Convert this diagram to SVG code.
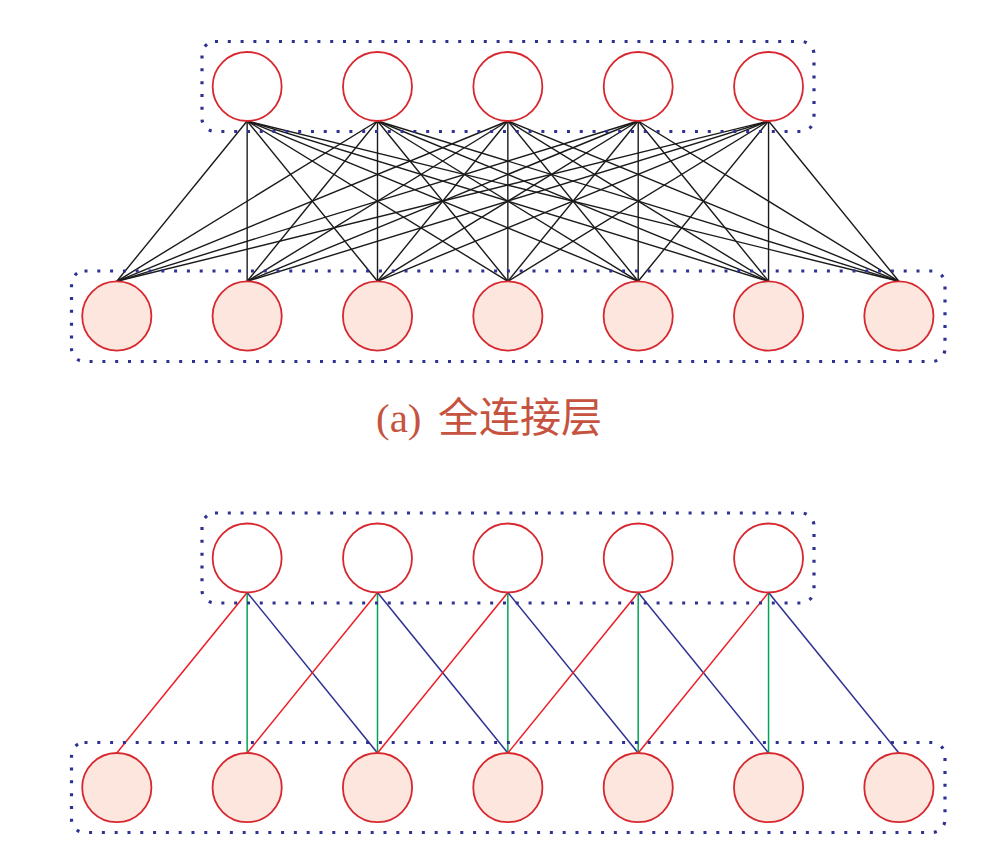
<svg xmlns="http://www.w3.org/2000/svg" width="1006" height="862" viewBox="0 0 1006 862">
<style>
.box{fill:none;stroke:#2e3192;stroke-width:3.2;stroke-dasharray:3 9.8}
.top{fill:#ffffff;stroke:#d7282f;stroke-width:1.8}
.bot{fill:#fce6de;stroke:#d7282f;stroke-width:1.8}
.fc line{stroke:#1a1a1a;stroke-width:1.4}
.r{stroke:#ee1c25;stroke-width:1.5}
.g{stroke:#00a651;stroke-width:1.5}
.b{stroke:#2e3192;stroke-width:1.5}
.lbl{font-family:"Liberation Serif","Noto Sans CJK SC",serif;font-size:41px;fill:#c65340}
</style>
<rect width="1006" height="862" fill="#ffffff"/>
<g id="connectors-a" class="fc">
<line x1="247.15" y1="121" x2="116.8" y2="281.3"/><line x1="247.15" y1="121" x2="247.15" y2="281.3"/><line x1="247.15" y1="121" x2="377.5" y2="281.3"/><line x1="247.15" y1="121" x2="507.85" y2="281.3"/><line x1="247.15" y1="121" x2="638.2" y2="281.3"/><line x1="247.15" y1="121" x2="768.55" y2="281.3"/><line x1="247.15" y1="121" x2="898.9" y2="281.3"/>
<line x1="377.5" y1="121" x2="116.8" y2="281.3"/><line x1="377.5" y1="121" x2="247.15" y2="281.3"/><line x1="377.5" y1="121" x2="377.5" y2="281.3"/><line x1="377.5" y1="121" x2="507.85" y2="281.3"/><line x1="377.5" y1="121" x2="638.2" y2="281.3"/><line x1="377.5" y1="121" x2="768.55" y2="281.3"/><line x1="377.5" y1="121" x2="898.9" y2="281.3"/>
<line x1="507.85" y1="121" x2="116.8" y2="281.3"/><line x1="507.85" y1="121" x2="247.15" y2="281.3"/><line x1="507.85" y1="121" x2="377.5" y2="281.3"/><line x1="507.85" y1="121" x2="507.85" y2="281.3"/><line x1="507.85" y1="121" x2="638.2" y2="281.3"/><line x1="507.85" y1="121" x2="768.55" y2="281.3"/><line x1="507.85" y1="121" x2="898.9" y2="281.3"/>
<line x1="638.2" y1="121" x2="116.8" y2="281.3"/><line x1="638.2" y1="121" x2="247.15" y2="281.3"/><line x1="638.2" y1="121" x2="377.5" y2="281.3"/><line x1="638.2" y1="121" x2="507.85" y2="281.3"/><line x1="638.2" y1="121" x2="638.2" y2="281.3"/><line x1="638.2" y1="121" x2="768.55" y2="281.3"/><line x1="638.2" y1="121" x2="898.9" y2="281.3"/>
<line x1="768.55" y1="121" x2="116.8" y2="281.3"/><line x1="768.55" y1="121" x2="247.15" y2="281.3"/><line x1="768.55" y1="121" x2="377.5" y2="281.3"/><line x1="768.55" y1="121" x2="507.85" y2="281.3"/><line x1="768.55" y1="121" x2="638.2" y2="281.3"/><line x1="768.55" y1="121" x2="768.55" y2="281.3"/><line x1="768.55" y1="121" x2="898.9" y2="281.3"/>
</g>
<g id="connectors-b">
<line class="r" x1="247.15" y1="592.5" x2="116.8" y2="753"/><line class="g" x1="247.15" y1="592.5" x2="247.15" y2="753"/><line class="b" x1="247.15" y1="592.5" x2="377.5" y2="753"/>
<line class="r" x1="377.5" y1="592.5" x2="247.15" y2="753"/><line class="g" x1="377.5" y1="592.5" x2="377.5" y2="753"/><line class="b" x1="377.5" y1="592.5" x2="507.85" y2="753"/>
<line class="r" x1="507.85" y1="592.5" x2="377.5" y2="753"/><line class="g" x1="507.85" y1="592.5" x2="507.85" y2="753"/><line class="b" x1="507.85" y1="592.5" x2="638.2" y2="753"/>
<line class="r" x1="638.2" y1="592.5" x2="507.85" y2="753"/><line class="g" x1="638.2" y1="592.5" x2="638.2" y2="753"/><line class="b" x1="638.2" y1="592.5" x2="768.55" y2="753"/>
<line class="r" x1="768.55" y1="592.5" x2="638.2" y2="753"/><line class="g" x1="768.55" y1="592.5" x2="768.55" y2="753"/><line class="b" x1="768.55" y1="592.5" x2="898.9" y2="753"/>
</g>
<g id="group-a-top"><rect class="box" x="202" y="41.5" width="612" height="90" rx="13"/></g>
<g id="group-a-bottom"><rect class="box" x="71.5" y="271" width="873.5" height="90.5" rx="13"/></g>
<g id="group-b-top"><rect class="box" x="202" y="513" width="612" height="90" rx="13"/></g>
<g id="group-b-bottom"><rect class="box" x="71.5" y="742.5" width="873.5" height="90" rx="13"/></g>
<g id="a-top-1"><circle class="top" cx="247.15" cy="86.5" r="34.5"/></g>
<g id="a-top-2"><circle class="top" cx="377.5" cy="86.5" r="34.5"/></g>
<g id="a-top-3"><circle class="top" cx="507.85" cy="86.5" r="34.5"/></g>
<g id="a-top-4"><circle class="top" cx="638.2" cy="86.5" r="34.5"/></g>
<g id="a-top-5"><circle class="top" cx="768.55" cy="86.5" r="34.5"/></g>
<g id="a-bot-1"><circle class="bot" cx="116.8" cy="316" r="34.6"/></g>
<g id="a-bot-2"><circle class="bot" cx="247.15" cy="316" r="34.6"/></g>
<g id="a-bot-3"><circle class="bot" cx="377.5" cy="316" r="34.6"/></g>
<g id="a-bot-4"><circle class="bot" cx="507.85" cy="316" r="34.6"/></g>
<g id="a-bot-5"><circle class="bot" cx="638.2" cy="316" r="34.6"/></g>
<g id="a-bot-6"><circle class="bot" cx="768.55" cy="316" r="34.6"/></g>
<g id="a-bot-7"><circle class="bot" cx="898.9" cy="316" r="34.6"/></g>
<g id="caption-a"><text class="lbl" y="432"><tspan x="376">(a)</tspan><tspan x="438" textLength="164" lengthAdjust="spacingAndGlyphs">全连接层</tspan></text></g>
<g id="b-top-1"><circle class="top" cx="247.15" cy="558" r="34.5"/></g>
<g id="b-top-2"><circle class="top" cx="377.5" cy="558" r="34.5"/></g>
<g id="b-top-3"><circle class="top" cx="507.85" cy="558" r="34.5"/></g>
<g id="b-top-4"><circle class="top" cx="638.2" cy="558" r="34.5"/></g>
<g id="b-top-5"><circle class="top" cx="768.55" cy="558" r="34.5"/></g>
<g id="b-bot-1"><circle class="bot" cx="116.8" cy="787.6" r="34.6"/></g>
<g id="b-bot-2"><circle class="bot" cx="247.15" cy="787.6" r="34.6"/></g>
<g id="b-bot-3"><circle class="bot" cx="377.5" cy="787.6" r="34.6"/></g>
<g id="b-bot-4"><circle class="bot" cx="507.85" cy="787.6" r="34.6"/></g>
<g id="b-bot-5"><circle class="bot" cx="638.2" cy="787.6" r="34.6"/></g>
<g id="b-bot-6"><circle class="bot" cx="768.55" cy="787.6" r="34.6"/></g>
<g id="b-bot-7"><circle class="bot" cx="898.9" cy="787.6" r="34.6"/></g>
</svg>
